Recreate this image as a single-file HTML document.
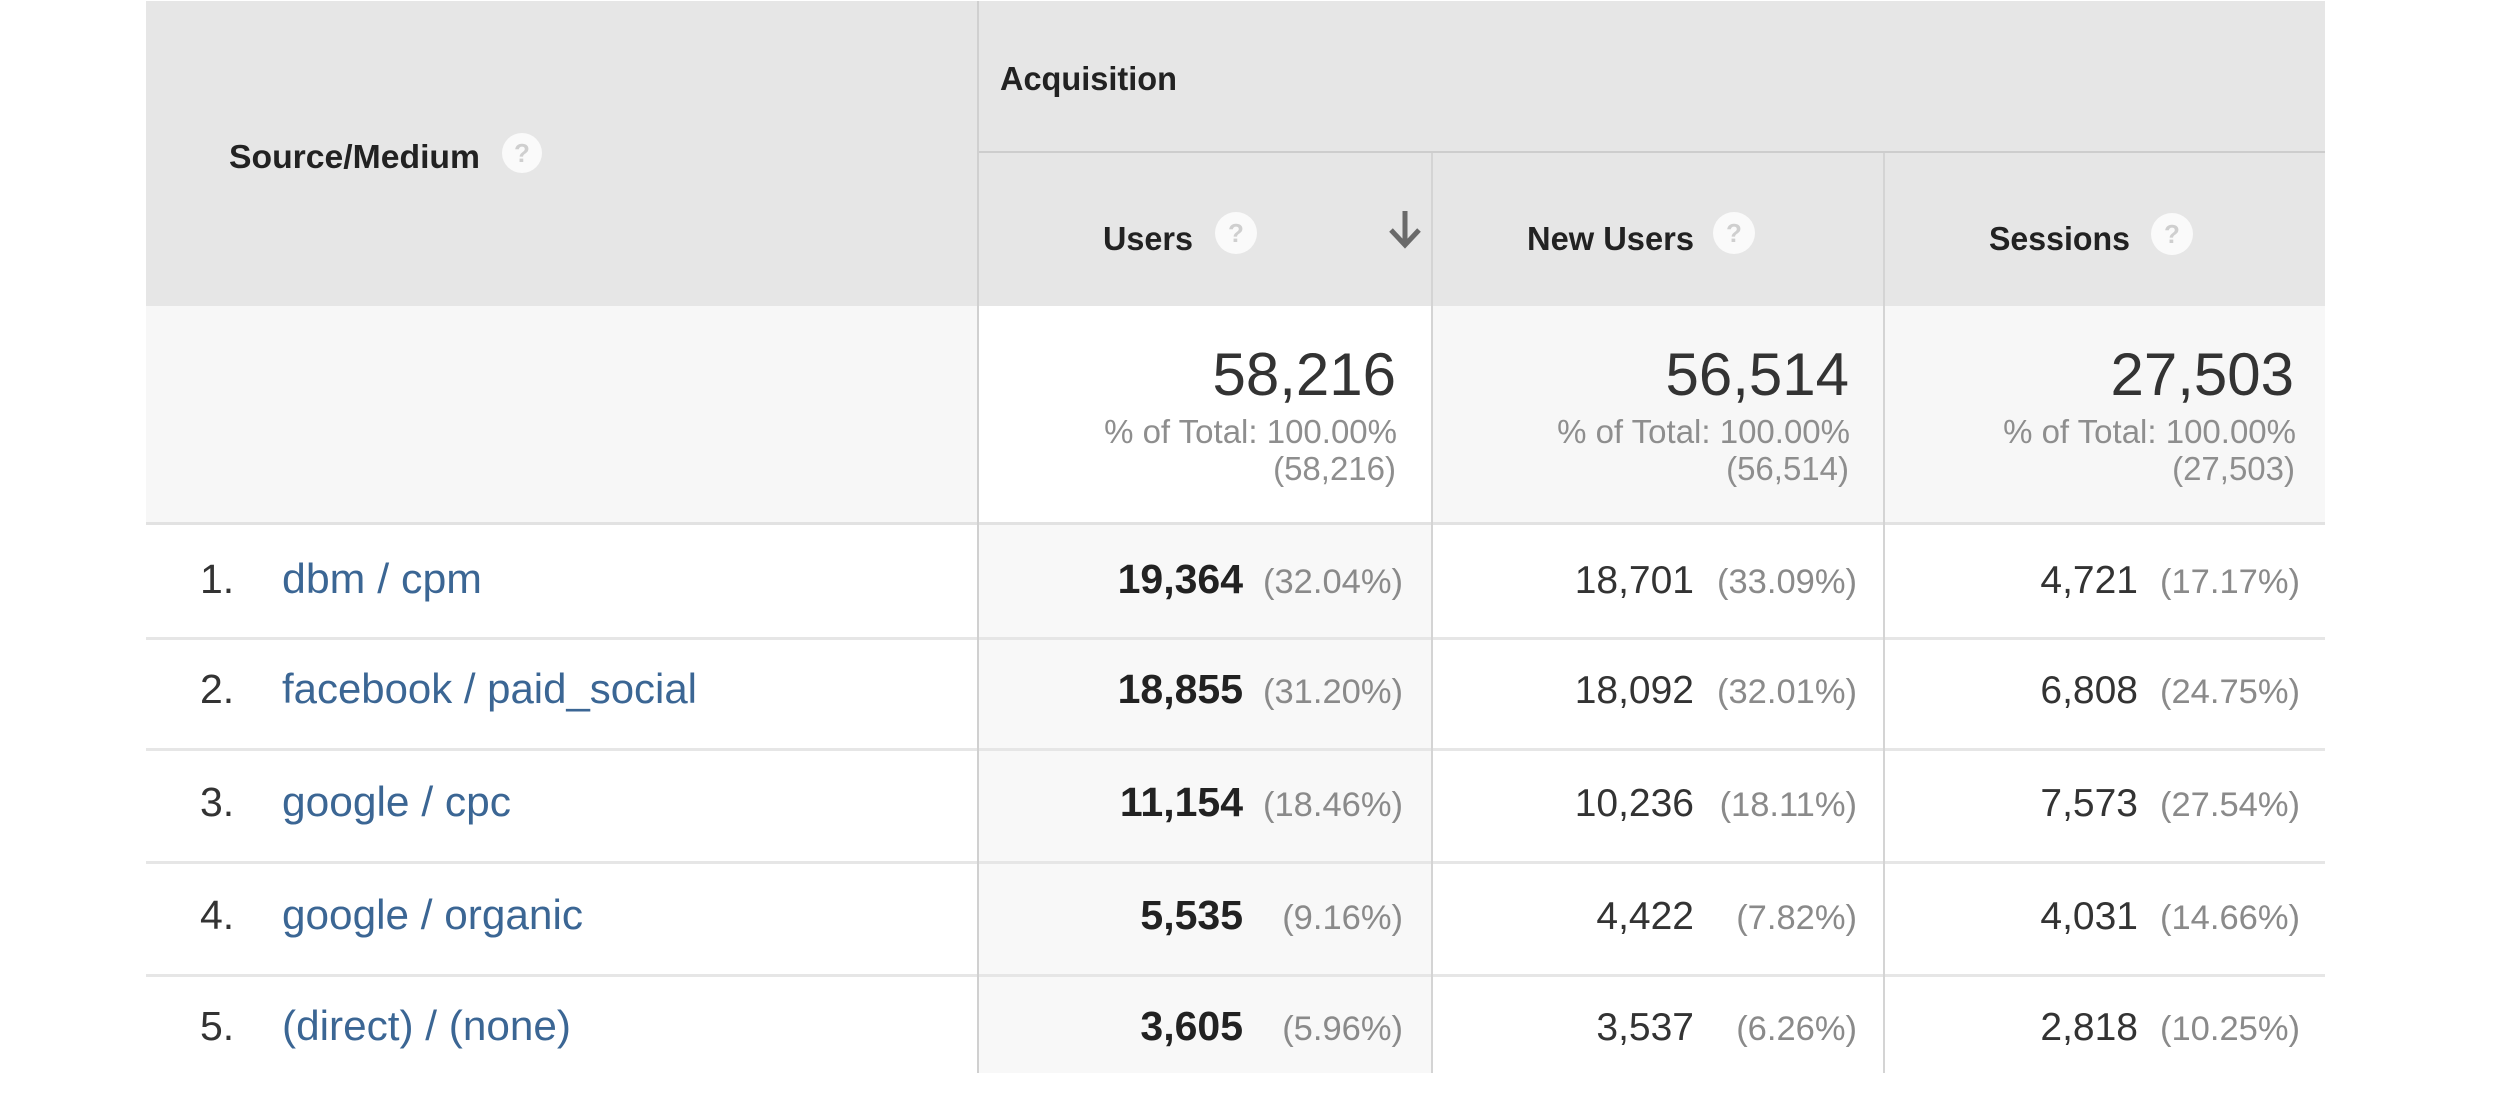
<!DOCTYPE html>
<html>
<head>
<meta charset="utf-8">
<style>
  html, body { margin:0; padding:0; background:#ffffff; }
  body { width:2512px; height:1094px; overflow:hidden; }
  svg { display:block; }
  text { font-family: "Liberation Sans", Arial, sans-serif; }
  .hdr { font-size:33px; font-weight:bold; fill:#222222; }
  .big { font-size:60px; fill:#333333; }
  .sub { font-size:33px; fill:#8e8e8e; }
  .rn  { font-size:41px; fill:#333333; }
  .lnk { font-size:42px; fill:#3b6694; }
  .nb  { font-size:41px; font-weight:bold; fill:#222222; }
  .nr  { font-size:39px; fill:#333333; }
  .pc  { font-size:34.5px; fill:#8a8a8a; }
  .q   { font-size:26px; font-weight:bold; fill:#cfcfcf; }
</style>
</head>
<body>
<svg width="2512" height="1094" viewBox="0 0 2512 1094" xmlns="http://www.w3.org/2000/svg">
  <!-- backgrounds -->
  <rect x="0" y="0" width="2512" height="1094" fill="#ffffff"/>
  <rect x="146" y="1" width="2179" height="305" fill="#e6e6e6"/>
  <rect x="146" y="306" width="2179" height="218" fill="#f7f7f7"/>
  <rect x="979" y="306" width="453" height="218" fill="#ffffff"/>
  <rect x="979" y="524" width="453" height="549" fill="#f8f8f8"/>

  <!-- header lines -->
  <rect x="979" y="151" width="1346" height="2" fill="#cdcdcd"/>
  <!-- row lines -->
  <rect x="146" y="522" width="2179" height="3" fill="#e2e2e2"/>
  <rect x="146" y="637" width="2179" height="3" fill="#e6e6e6"/>
  <rect x="146" y="748" width="2179" height="3" fill="#e6e6e6"/>
  <rect x="146" y="861" width="2179" height="3" fill="#e6e6e6"/>
  <rect x="146" y="974" width="2179" height="3" fill="#e6e6e6"/>
  <!-- vertical dividers -->
  <rect x="977" y="1" width="2" height="1072" fill="#d0d0d0"/>
  <rect x="1431" y="153" width="2" height="920" fill="#d4d4d4"/>
  <rect x="1883" y="153" width="2" height="920" fill="#d4d4d4"/>

  <!-- header text -->
  <text class="hdr" x="229" y="168" textLength="251" lengthAdjust="spacingAndGlyphs">Source/Medium</text>
  <circle cx="522" cy="153" r="20" fill="#fafafa"/>
  <text class="q" x="522" y="162" text-anchor="middle">?</text>

  <text class="hdr" x="1000" y="90" textLength="177" lengthAdjust="spacingAndGlyphs">Acquisition</text>

  <text class="hdr" x="1103" y="250" textLength="90" lengthAdjust="spacingAndGlyphs">Users</text>
  <circle cx="1236" cy="233" r="21" fill="#fafafa"/>
  <text class="q" x="1236" y="242" text-anchor="middle">?</text>
  <!-- sort arrow -->
  <line x1="1405" y1="211" x2="1405" y2="244" stroke="#6a6a6a" stroke-width="5"/>
  <polyline points="1391,230 1405,245 1419,230" fill="none" stroke="#6a6a6a" stroke-width="5" stroke-linejoin="miter"/>

  <text class="hdr" x="1527" y="250" textLength="167" lengthAdjust="spacingAndGlyphs">New Users</text>
  <circle cx="1734" cy="233" r="21" fill="#fafafa"/>
  <text class="q" x="1734" y="242" text-anchor="middle">?</text>

  <text class="hdr" x="1989" y="250" textLength="141" lengthAdjust="spacingAndGlyphs">Sessions</text>
  <circle cx="2172" cy="234" r="21" fill="#fafafa"/>
  <text class="q" x="2172" y="243" text-anchor="middle">?</text>

  <!-- totals -->
  <text class="big" x="1396" y="395" text-anchor="end">58,216</text>
  <text class="sub" x="1397" y="443" text-anchor="end">% of Total: 100.00%</text>
  <text class="sub" x="1396" y="480" text-anchor="end">(58,216)</text>

  <text class="big" x="1849" y="395" text-anchor="end">56,514</text>
  <text class="sub" x="1850" y="443" text-anchor="end">% of Total: 100.00%</text>
  <text class="sub" x="1849" y="480" text-anchor="end">(56,514)</text>

  <text class="big" x="2294" y="395" text-anchor="end">27,503</text>
  <text class="sub" x="2296" y="443" text-anchor="end">% of Total: 100.00%</text>
  <text class="sub" x="2295" y="480" text-anchor="end">(27,503)</text>

  <!-- row 1 -->
  <text class="rn" x="200" y="593">1.</text>
  <text class="lnk" x="282" y="593" textLength="200" lengthAdjust="spacingAndGlyphs">dbm / cpm</text>
  <text class="nb" x="1243" y="593" text-anchor="end">19,364</text>
  <text class="pc" x="1403" y="593" text-anchor="end">(32.04%)</text>
  <text class="nr" x="1694" y="593" text-anchor="end">18,701</text>
  <text class="pc" x="1857" y="593" text-anchor="end">(33.09%)</text>
  <text class="nr" x="2138" y="593" text-anchor="end">4,721</text>
  <text class="pc" x="2300" y="593" text-anchor="end">(17.17%)</text>

  <!-- row 2 -->
  <text class="rn" x="200" y="703">2.</text>
  <text class="lnk" x="282" y="703" textLength="415" lengthAdjust="spacingAndGlyphs">facebook / paid_social</text>
  <text class="nb" x="1243" y="703" text-anchor="end">18,855</text>
  <text class="pc" x="1403" y="703" text-anchor="end">(31.20%)</text>
  <text class="nr" x="1694" y="703" text-anchor="end">18,092</text>
  <text class="pc" x="1857" y="703" text-anchor="end">(32.01%)</text>
  <text class="nr" x="2138" y="703" text-anchor="end">6,808</text>
  <text class="pc" x="2300" y="703" text-anchor="end">(24.75%)</text>

  <!-- row 3 -->
  <text class="rn" x="200" y="816">3.</text>
  <text class="lnk" x="282" y="816" textLength="229" lengthAdjust="spacingAndGlyphs">google / cpc</text>
  <text class="nb" x="1243" y="816" text-anchor="end">11,154</text>
  <text class="pc" x="1403" y="816" text-anchor="end">(18.46%)</text>
  <text class="nr" x="1694" y="816" text-anchor="end">10,236</text>
  <text class="pc" x="1857" y="816" text-anchor="end">(18.11%)</text>
  <text class="nr" x="2138" y="816" text-anchor="end">7,573</text>
  <text class="pc" x="2300" y="816" text-anchor="end">(27.54%)</text>

  <!-- row 4 -->
  <text class="rn" x="200" y="929">4.</text>
  <text class="lnk" x="282" y="929" textLength="301" lengthAdjust="spacingAndGlyphs">google / organic</text>
  <text class="nb" x="1243" y="929" text-anchor="end">5,535</text>
  <text class="pc" x="1403" y="929" text-anchor="end">(9.16%)</text>
  <text class="nr" x="1694" y="929" text-anchor="end">4,422</text>
  <text class="pc" x="1857" y="929" text-anchor="end">(7.82%)</text>
  <text class="nr" x="2138" y="929" text-anchor="end">4,031</text>
  <text class="pc" x="2300" y="929" text-anchor="end">(14.66%)</text>

  <!-- row 5 -->
  <text class="rn" x="200" y="1040">5.</text>
  <text class="lnk" x="282" y="1040" textLength="289" lengthAdjust="spacingAndGlyphs">(direct) / (none)</text>
  <text class="nb" x="1243" y="1040" text-anchor="end">3,605</text>
  <text class="pc" x="1403" y="1040" text-anchor="end">(5.96%)</text>
  <text class="nr" x="1694" y="1040" text-anchor="end">3,537</text>
  <text class="pc" x="1857" y="1040" text-anchor="end">(6.26%)</text>
  <text class="nr" x="2138" y="1040" text-anchor="end">2,818</text>
  <text class="pc" x="2300" y="1040" text-anchor="end">(10.25%)</text>
</svg>
</body>
</html>
